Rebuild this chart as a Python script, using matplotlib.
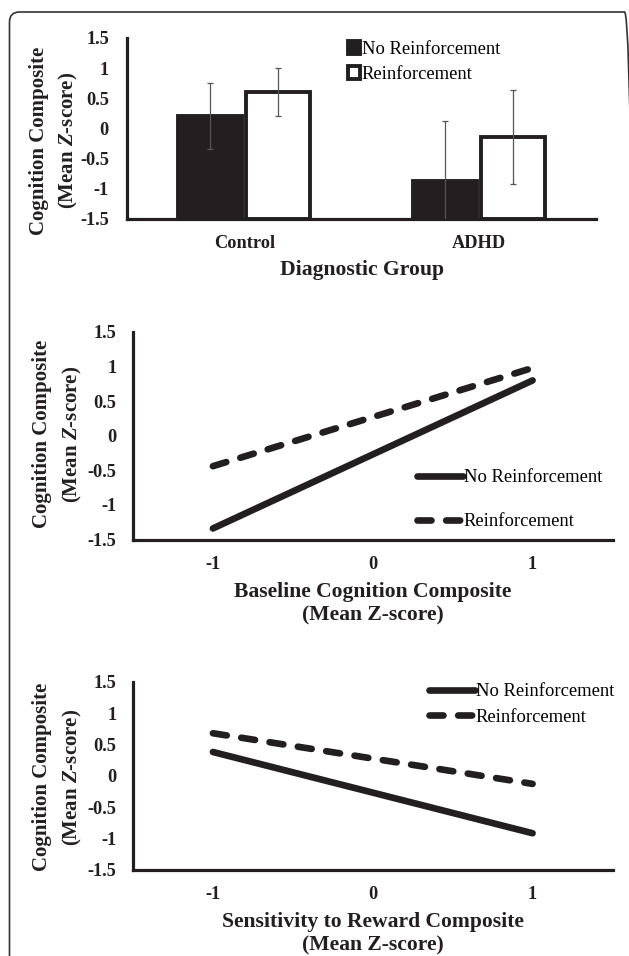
import matplotlib
matplotlib.use("Agg")
import matplotlib.pyplot as plt
from matplotlib.patches import FancyBboxPatch
import numpy as np

plt.rcParams['font.family'] = ['Liberation Serif', 'DejaVu Serif']
plt.rcParams['mathtext.fontset'] = 'custom'
plt.rcParams['mathtext.rm'] = 'Liberation Serif:bold'
plt.rcParams['mathtext.bf'] = 'Liberation Serif:bold'
plt.rcParams['mathtext.it'] = 'Liberation Serif:italic:bold'

# datos
grupos = ["Control", "ADHD"]
media_sin = [0.21, -0.88]
media_con = [0.60, -0.14]
err_sin = [0.55, 1.00]
err_con = [0.40, 0.78]

x_lineas = [-1, 1]
base_sin = [-1.34, 0.80]
base_con = [-0.44, 0.98]
recomp_sin = [0.38, -0.92]
recomp_con = [0.68, -0.13]

yticks = [-1.5, -1, -0.5, 0, 0.5, 1, 1.5]
ytick_labels = ["-1.5", "-1", "-0.5", "0", "0.5", "1", "1.5"]
xticks = [-1, 0, 1]
xtick_labels = ["-1", "0", "1"]

W, H = 629, 956
negro = "#231f20"


def caja(l, t, r, b):
    return [l / W, 1 - b / H, (r - l) / W, (b - t) / H]


def fx(x):
    return x / W


def fy(y):
    return 1 - y / H


fig = plt.figure(figsize=(W / 100, H / 100), dpi=100)

# marco redondeado (se sale por la derecha y por abajo)
marco = FancyBboxPatch((0.095, -0.3), 6.25, 9.74, boxstyle="round,pad=0,rounding_size=0.1",
                       transform=fig.dpi_scale_trans, fill=False, edgecolor="#333333", lw=1.2)
fig.patches.append(marco)


def estilo(ax, pad_y=12):
    for s in ["top", "right"]:
        ax.spines[s].set_visible(False)
    for s in ["left", "bottom"]:
        ax.spines[s].set_linewidth(2.3)
        ax.spines[s].set_color(negro)
    ax.set_ylim(-1.5, 1.5)
    ax.set_yticks(yticks)
    ax.set_yticklabels(ytick_labels)
    ax.tick_params(axis="y", length=0, pad=pad_y, labelsize=13.2)
    ax.tick_params(axis="x", length=0, pad=12, labelsize=13.2)
    for lab in ax.get_xticklabels() + ax.get_yticklabels():
        lab.set_fontweight("bold")
        lab.set_color(negro)


def ylabel(x1, x2, yc):
    fig.text(fx(x1), fy(yc), "Cognition Composite", rotation=90, ha="center", va="center",
             fontsize=15, fontweight="bold", color=negro)
    fig.text(fx(x2), fy(yc), "(Mean $Z$-score)", rotation=90, ha="center", va="center",
             fontsize=15, fontweight="bold", color=negro)


# Panel 1: barras
ax1 = fig.add_axes(caja(127, 38, 596, 218.5))
pos = np.arange(len(grupos))
ancho = 0.275
desp = 0.145
ax1.bar(pos - desp, np.array(media_sin) + 1.5, ancho, bottom=-1.5, color=negro,
        edgecolor=negro, lw=2.8, label="No Reinforcement", zorder=2)
ax1.bar(pos + desp, np.array(media_con) + 1.5, ancho, bottom=-1.5, color="white",
        edgecolor=negro, lw=2.8, label="Reinforcement", zorder=2)
ax1.errorbar(pos - desp, media_sin, yerr=err_sin, fmt="none", ecolor="#555555",
             elinewidth=0.9, capsize=2.5, capthick=0.9, zorder=3)
ax1.errorbar(pos + desp, media_con, yerr=err_con, fmt="none", ecolor="#555555",
             elinewidth=0.9, capsize=2.5, capthick=0.9, zorder=3)
ax1.set_xlim(-0.5, 1.5)
ax1.set_xticks(pos)
ax1.set_xticklabels(grupos)
estilo(ax1, pad_y=13)
ax1.legend(loc="center left", bbox_to_anchor=(fx(348), fy(62)), bbox_transform=fig.transFigure,
           frameon=False, borderpad=0, borderaxespad=0, handlelength=0.66, handleheight=0.66,
           handletextpad=0.08, labelspacing=0.45, fontsize=13.4)
ylabel(39, 68, 140.5)
fig.text(fx(361.5), fy(270), "Diagnostic Group", ha="center", va="center", fontsize=15.6,
         fontweight="bold", color=negro)

# Panel 2: linea base
ax2 = fig.add_axes(caja(133, 332, 612.5, 539.5))
ax2.plot(x_lineas, base_sin, color=negro, lw=4.8, solid_capstyle="round", label="No Reinforcement")
ax2.plot(x_lineas, base_con, color=negro, lw=4.8, linestyle=(0, (2.1, 2.2)), dash_capstyle="round",
         label="Reinforcement")
ax2.set_xlim(-1.5, 1.5)
ax2.set_xticks(xticks)
ax2.set_xticklabels(xtick_labels)
estilo(ax2)
ax2.legend(loc="center left", bbox_to_anchor=(fx(417), fy(499.7)), bbox_transform=fig.transFigure,
           frameon=False, borderpad=0, borderaxespad=0, handlelength=2.45, handletextpad=0.05,
           labelspacing=1.45, fontsize=13.4)
ylabel(42.5, 72.5, 434)
fig.text(fx(372.7), fy(591.7), "Baseline Cognition Composite", ha="center", va="center",
         fontsize=15.6, fontweight="bold", color=negro)
fig.text(fx(372.7), fy(615), "(Mean Z-score)", ha="center", va="center",
         fontsize=15.6, fontweight="bold", color=negro)

# Panel 3: sensibilidad a la recompensa
ax3 = fig.add_axes(caja(133, 682, 612.5, 869.5))
ax3.plot(x_lineas, recomp_sin, color=negro, lw=4.8, solid_capstyle="round", label="No Reinforcement")
ax3.plot(x_lineas, recomp_con, color=negro, lw=4.8, linestyle=(0, (2.1, 2.2)), dash_capstyle="round",
         label="Reinforcement")
ax3.set_xlim(-1.5, 1.5)
ax3.set_xticks(xticks)
ax3.set_xticklabels(xtick_labels)
estilo(ax3)
ax3.legend(loc="center left", bbox_to_anchor=(fx(429.3), fy(704.5)), bbox_transform=fig.transFigure,
           frameon=False, borderpad=0, borderaxespad=0, handlelength=2.45, handletextpad=0.05,
           labelspacing=0.45, fontsize=13.4)
ylabel(42.5, 72.5, 777)
fig.text(fx(372.7), fy(921.7), "Sensitivity to Reward Composite", ha="center", va="center",
         fontsize=15.6, fontweight="bold", color=negro)
fig.text(fx(372.7), fy(945), "(Mean Z-score)", ha="center", va="center",
         fontsize=15.6, fontweight="bold", color=negro)

fig.savefig("out.png", dpi=100)
